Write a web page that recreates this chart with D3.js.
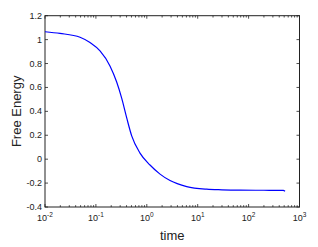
<!DOCTYPE html>
<html>
<head>
<meta charset="utf-8">
<script src="https://cdn.jsdelivr.net/npm/d3@7"></script>
<style>
  body { margin: 0; background: #fff; }
  text { font-family: "Liberation Sans", Arial, sans-serif; fill: #222; }
</style>
</head>
<body>
<svg width="318" height="247"></svg>
<script>
// free energy over time
let times  = [0.01, 0.0197, 0.0488, 0.0766, 0.1205, 0.189, 0.256, 0.321, 0.403, 0.505, 0.735, 1.156, 1.82, 2.86, 6.08, 15, 30, 68, 200, 480, 520],
    energy = [1.066, 1.052, 1.020, 0.975, 0.905, 0.780, 0.645, 0.510, 0.345, 0.195, 0.051, -0.049, -0.125, -0.179, -0.229, -0.251, -0.256, -0.259, -0.260, -0.261, -0.268],
    yTicks = [-0.4, -0.2, 0, 0.2, 0.4, 0.6, 0.8, 1, 1.2],
    xDecades = [-2, -1, 0, 1, 2, 3];

let pLeft = 45, pRight = 299.5, pTop = 15.7, pBottom = 207,
    svg = d3.select("svg"),
    xScale = d3.scaleLog().domain([0.01, 1000]).range([pLeft, pRight]),
    yScale = d3.scaleLinear().domain([-0.4, 1.2]).range([pBottom, pTop]),
    minor = [];

xDecades.slice(0, -1).forEach(e => {
  for (let k = 2; k <= 9; k++) minor.push(k * Math.pow(10, e));
});

// frame
svg.append("rect")
   .attr("x", pLeft).attr("y", pTop)
   .attr("width", pRight - pLeft).attr("height", pBottom - pTop)
   .attr("fill", "none").attr("stroke", "#222").attr("stroke-width", 1);

let tickG = svg.append("g").attr("stroke", "#222").attr("stroke-width", 0.8);

// x ticks, inward on bottom and top
xDecades.forEach(e => {
  let x = xScale(Math.pow(10, e));
  tickG.append("line").attr("x1", x).attr("x2", x).attr("y1", pBottom).attr("y2", pBottom - 3);
  tickG.append("line").attr("x1", x).attr("x2", x).attr("y1", pTop).attr("y2", pTop + 3);
});
minor.forEach(v => {
  let x = xScale(v);
  tickG.append("line").attr("x1", x).attr("x2", x).attr("y1", pBottom).attr("y2", pBottom - 1.8);
  tickG.append("line").attr("x1", x).attr("x2", x).attr("y1", pTop).attr("y2", pTop + 1.8);
});

// y ticks, inward on left and right
yTicks.forEach(v => {
  let y = yScale(v);
  tickG.append("line").attr("x1", pLeft).attr("x2", pLeft + 3).attr("y1", y).attr("y2", y);
  tickG.append("line").attr("x1", pRight).attr("x2", pRight - 3).attr("y1", y).attr("y2", y);
});

// y tick labels
svg.selectAll(".ylab")
   .data(yTicks)
   .enter()
   .append("text")
   .attr("x", pLeft - 3)
   .attr("y", d => yScale(d) + 3)
   .attr("text-anchor", "end")
   .attr("font-size", 9)
   .text(d => Math.round(d * 10) / 10);

// x tick labels 10^e
let xl = svg.selectAll(".xlab")
   .data(xDecades)
   .enter()
   .append("text")
   .attr("x", d => xScale(Math.pow(10, d)))
   .attr("y", 221)
   .attr("text-anchor", "middle")
   .attr("font-size", 9);
xl.append("tspan").text("10");
xl.append("tspan").attr("dy", -4).attr("font-size", 6.5).text(d => d < 0 ? "-" + (-d) : d);

// axis titles
svg.append("text")
   .attr("x", (pLeft + pRight) / 2)
   .attr("y", 240)
   .attr("text-anchor", "middle")
   .attr("font-size", 13)
   .text("time");

svg.append("text")
   .attr("transform", `translate(21,${(pTop + pBottom) / 2}) rotate(-90)`)
   .attr("text-anchor", "middle")
   .attr("font-size", 13)
   .text("Free Energy");

// curve
let line = d3.line()
   .x((d, i) => xScale(times[i]))
   .y(d => yScale(d))
   .curve(d3.curveMonotoneX);

svg.append("path")
   .datum(energy)
   .attr("d", line)
   .attr("fill", "none")
   .attr("stroke", "#0000ff")
   .attr("stroke-width", 1.2);
</script>
</body>
</html>
